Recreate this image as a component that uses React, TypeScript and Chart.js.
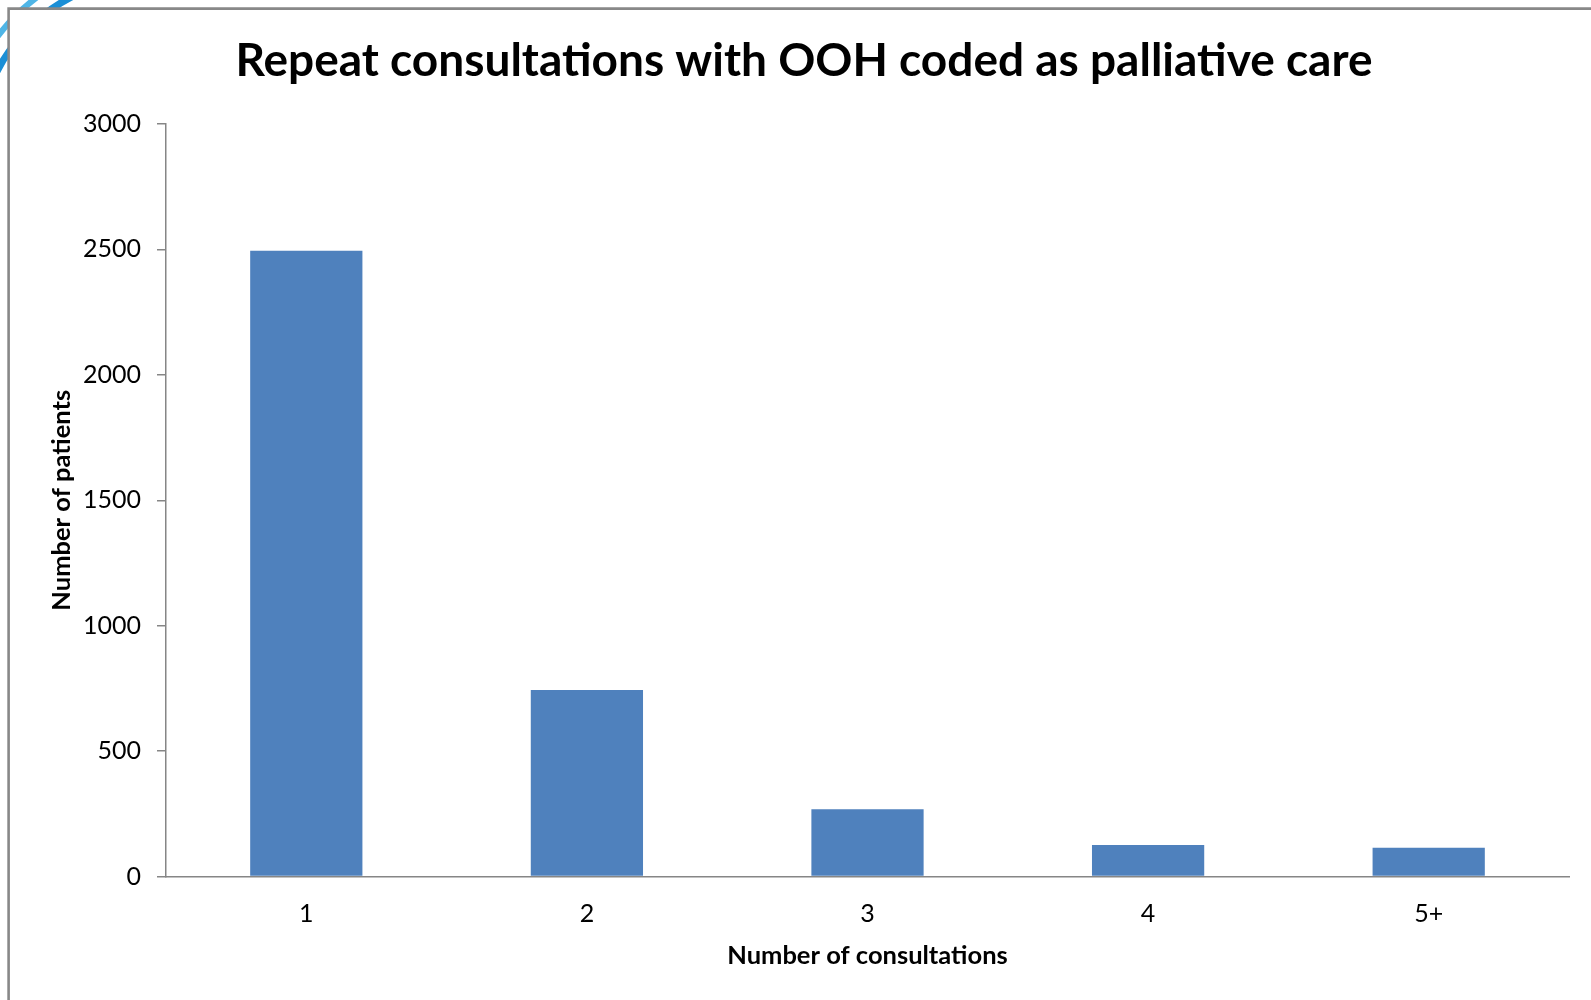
import { useEffect, useRef } from "react";
import { Chart, registerables } from "chart.js";

Chart.register(...registerables);

const categories = ["1", "2", "3", "4", "5+"];
const patients = [2495, 744, 268, 126, 115];
const yTickValues = [0, 500, 1000, 1500, 2000, 2500, 3000];
const chartTitle = "Repeat consultations with OOH coded as palliative care";
const xAxisTitle = "Number of consultations";
const yAxisTitle = "Number of patients";

const FONT = "Lato, 'Open Sans', sans-serif";
const AXIS_GRAY = "#868686";

const framePlugin = {
  id: "frame",
  beforeDraw(chart: any) {
    const ctx = chart.ctx as CanvasRenderingContext2D;
    const w = chart.width;
    const h = chart.height;
    ctx.save();
    ctx.fillStyle = "#ffffff";
    ctx.fillRect(0, 0, w, h);
    // slide decoration in the corner
    ctx.lineCap = "butt";
    const arcs = [
      { r: 172, color: "#1b8fd6", lw: 7 },
      { r: 182, color: "#ffffff", lw: 3 },
      { r: 190, color: "#4fb5e6", lw: 6 },
    ];
    for (const a of arcs) {
      ctx.beginPath();
      ctx.strokeStyle = a.color;
      ctx.lineWidth = a.lw;
      ctx.arc(150, 150, a.r, Math.PI, Math.PI * 1.5);
      ctx.stroke();
    }
    ctx.fillStyle = "#ffffff";
    ctx.fillRect(9, 9, w, h);
    ctx.strokeStyle = "#888888";
    ctx.lineWidth = 2.6;
    ctx.beginPath();
    ctx.moveTo(8.6, h);
    ctx.lineTo(8.6, 8.6);
    ctx.lineTo(w, 8.6);
    ctx.stroke();
    ctx.restore();
  },
};

export default function App() {
  const canvasRef = useRef<HTMLCanvasElement | null>(null);

  useEffect(() => {
    if (!canvasRef.current) return;
    const chart = new Chart(canvasRef.current, {
      type: "bar",
      data: {
        labels: categories,
        datasets: [
          {
            label: yAxisTitle,
            data: patients,
            backgroundColor: "#4f81bd",
            borderWidth: 0,
            barPercentage: 0.4,
            categoryPercentage: 1.0,
          },
        ],
      },
      options: {
        responsive: false,
        animation: false,
        devicePixelRatio: 1,
        layout: { padding: { left: 39, right: 22, top: 0, bottom: 0 } },
        plugins: {
          legend: { display: false },
          tooltip: { enabled: false },
          title: {
            display: true,
            text: chartTitle,
            color: "#000000",
            font: { family: FONT, size: 46, weight: "bold" },
            padding: { top: 34, bottom: 34.8 },
          },
        },
        scales: {
          x: {
            offset: true,
            grid: { display: false, drawTicks: false },
            border: { display: true, color: AXIS_GRAY, width: 1.5 },
            ticks: {
              color: "#000000",
              font: { family: FONT, size: 25 },
              padding: 22,
              maxRotation: 0,
            },
            title: {
              display: true,
              text: xAxisTitle,
              color: "#000000",
              font: { family: FONT, size: 25.5, weight: "bold" },
              padding: { top: 0, bottom: 29 },
            },
            afterFit: (scale: any) => {
              scale.height = 123.5;
            },
          },
          y: {
            min: 0,
            max: 3000,
            afterBuildTicks: (scale: any) => {
              scale.ticks = yTickValues.map((v) => ({ value: v }));
            },
            grid: {
              display: true,
              drawOnChartArea: false,
              drawTicks: true,
              tickLength: 9,
              color: AXIS_GRAY,
              lineWidth: 1.5,
            },
            border: { display: true, color: AXIS_GRAY, width: 1.5 },
            ticks: {
              color: "#000000",
              font: { family: FONT, size: 25 },
              padding: 16,
              callback: (v: any) => String(v),
            },
            title: {
              display: true,
              text: yAxisTitle,
              color: "#000000",
              font: { family: FONT, size: 25.5, weight: "bold" },
              padding: { top: 7.5, bottom: 0 },
            },
            afterFit: (scale: any) => {
              scale.width = 127;
            },
          },
        },
      },
      plugins: [framePlugin],
    });
    return () => chart.destroy();
  }, []);

  return (
    <div
      style={{
        position: "absolute",
        left: 0,
        top: 0,
        width: 1591,
        height: 1000,
        overflow: "hidden",
        background: "#ffffff",
      }}
    >
      <canvas ref={canvasRef} width={1591} height={1000} style={{ display: "block" }} />
    </div>
  );
}
